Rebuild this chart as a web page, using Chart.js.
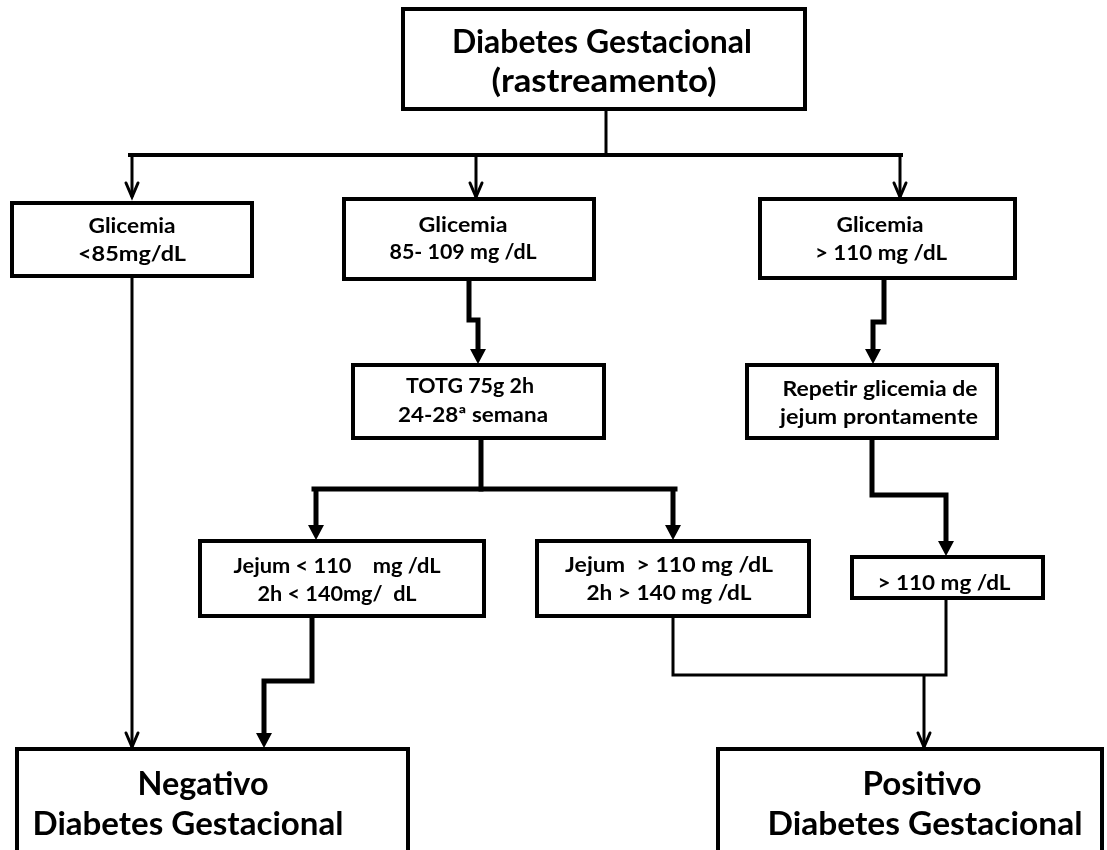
<!DOCTYPE html>
<html>
<head>
<meta charset="utf-8">
<script src="https://cdn.jsdelivr.net/npm/chart.js@4/dist/chart.umd.min.js"></script>
<style>
  html, body { margin: 0; padding: 0; background: #fff; }
  canvas { display: block; }
</style>
</head>
<body>
<canvas id="canvas" width="1107" height="850"></canvas>
<script>
// texto de cada caixa do fluxograma
const topLabel = ["Diabetes Gestacional", "(rastreamento)"];
const glicemiaLabels = [
  ["Glicemia", "<85mg/dL"],
  ["Glicemia", "85- 109 mg /dL"],
  ["Glicemia", "> 110 mg /dL"],
];
const secondLabels = [
  ["TOTG 75g 2h", "24-28ª semana"],
  ["Repetir glicemia de", "jejum prontamente"],
];
const thirdLabels = [
  ["Jejum < 110    mg /dL", "2h < 140mg/  dL"],
  ["Jejum  > 110 mg /dL", "2h > 140 mg /dL"],
  ["> 110 mg /dL"],
];
const resultLabels = [
  ["Negativo", "Diabetes Gestacional"],
  ["Positivo", "Diabetes Gestacional"],
];

// layout (unidades do eixo: 0-1107 x 0-850); tx = centro, tw = largura de cada linha
const boxes = [
  { text: topLabel, x1: 403, x2: 805, y1: 9, y2: 109, size: 32, base: 53, gap: 39, tx: [602, 604], tw: [300, 225] },
  { text: glicemiaLabels[0], x1: 12, x2: 252, y1: 203, y2: 276, size: 21, base: 233, gap: 28, tx: [132, 132], tw: [87, 108] },
  { text: glicemiaLabels[1], x1: 344, x2: 594, y1: 199, y2: 279, size: 21, base: 232, gap: 27, tx: [463, 463], tw: [89, 147] },
  { text: glicemiaLabels[2], x1: 760, x2: 1015, y1: 199, y2: 278, size: 21, base: 232, gap: 28, tx: [880, 881], tw: [87, 132] },
  { text: secondLabels[0], x1: 353, x2: 604, y1: 365, y2: 438, size: 21, base: 393, gap: 29, tx: [470, 473], tw: [128, 150] },
  { text: secondLabels[1], x1: 747, x2: 997, y1: 365, y2: 438, size: 21, base: 396, gap: 28, tx: [880, 879], tw: [195, 198] },
  { text: thirdLabels[0], x1: 200, x2: 484, y1: 541, y2: 616, size: 21, base: 573, gap: 28, tx: [337, 337], tw: [207, 159] },
  { text: thirdLabels[1], x1: 537, x2: 809, y1: 541, y2: 616, size: 21, base: 572, gap: 28, tx: [669, 669], tw: [208, 165] },
  { text: thirdLabels[2], x1: 852, x2: 1043, y1: 557, y2: 598, size: 21, base: 590, gap: 28, tx: [944], tw: [133] },
  { text: resultLabels[0], x1: 17, x2: 408, y1: 749, y2: 900, size: 32, base: 795, gap: 40, tx: [203, 188], tw: [131, 311] },
  { text: resultLabels[1], x1: 718, x2: 1102, y1: 749, y2: 900, size: 32, base: 795, gap: 40, tx: [922, 925], tw: [119, 315] },
];

// conectores: pontos [x, y], espessura, tipo de seta
const links = [
  { pts: [[606, 109], [606, 155]], w: 3, head: null },
  { pts: [[130, 155], [901, 155]], w: 4, head: null },
  { pts: [[132, 155], [132, 197]], w: 3, head: "open" },
  { pts: [[476, 155], [476, 197]], w: 3, head: "open" },
  { pts: [[900, 155], [900, 197]], w: 3, head: "open" },
  { pts: [[132, 276], [132, 747]], w: 3, head: "open" },
  { pts: [[469, 279], [469, 320], [478, 320], [478, 364]], w: 5, head: "fill" },
  { pts: [[884, 278], [884, 322], [873, 322], [873, 364]], w: 5, head: "fill" },
  { pts: [[481, 438], [481, 489]], w: 5, head: null },
  { pts: [[314, 489], [675, 489]], w: 5, head: null },
  { pts: [[316, 489], [316, 540]], w: 5, head: "fill" },
  { pts: [[673, 489], [673, 540]], w: 5, head: "fill" },
  { pts: [[872, 438], [872, 495], [946, 495], [946, 556]], w: 5, head: "fill" },
  { pts: [[312, 616], [312, 681], [264, 681], [264, 748]], w: 5, head: "fill" },
  { pts: [[673, 616], [673, 675], [946, 675], [946, 598]], w: 3, head: null },
  { pts: [[924, 675], [924, 747]], w: 3, head: "open" },
];

const flowPlugin = {
  id: "flow",
  afterDatasetsDraw(chart) {
    const ctx = chart.ctx;
    const sx = chart.scales.x, sy = chart.scales.y;
    const X = v => sx.getPixelForValue(v);
    const Y = v => sy.getPixelForValue(v);
    ctx.save();
    ctx.strokeStyle = "#000";
    ctx.fillStyle = "#000";
    ctx.lineJoin = "miter";

    links.forEach(l => {
      const p = l.pts.map(q => [X(q[0]), Y(q[1])]);
      const n = p.length;
      const tip = p[n - 1];
      const pts = p.slice();
      if (l.head === "fill") pts[n - 1] = [tip[0], tip[1] - 12];
      ctx.lineWidth = l.w;
      ctx.lineCap = l.head ? "butt" : "square";
      ctx.beginPath();
      ctx.moveTo(pts[0][0], pts[0][1]);
      for (let i = 1; i < n; i++) ctx.lineTo(pts[i][0], pts[i][1]);
      ctx.stroke();
      if (l.head === "fill") {
        ctx.beginPath();
        ctx.moveTo(tip[0], tip[1]);
        ctx.lineTo(tip[0] - 8, tip[1] - 15);
        ctx.lineTo(tip[0] + 8, tip[1] - 15);
        ctx.closePath();
        ctx.fill();
      } else if (l.head === "open") {
        ctx.lineWidth = 3;
        ctx.lineCap = "round";
        ctx.beginPath();
        ctx.moveTo(tip[0] - 6, tip[1] - 14);
        ctx.lineTo(tip[0], tip[1]);
        ctx.lineTo(tip[0] + 6, tip[1] - 14);
        ctx.stroke();
      }
    });

    boxes.forEach(b => {
      const x = X(b.x1), y = Y(b.y1), w = X(b.x2) - X(b.x1), h = Y(b.y2) - Y(b.y1);
      ctx.fillStyle = "#fff";
      ctx.fillRect(x, y, w, h);
      ctx.lineWidth = 4;
      ctx.strokeStyle = "#000";
      ctx.strokeRect(x, y, w, h);
      ctx.fillStyle = "#000";
      ctx.font = "bold " + b.size + "px Lato";
      ctx.textAlign = "center";
      ctx.textBaseline = "alphabetic";
      b.text.forEach((t, i) => {
        const m = ctx.measureText(t).width;
        const target = X(b.tx[i] + b.tw[i] / 2) - X(b.tx[i] - b.tw[i] / 2);
        ctx.save();
        ctx.translate(X(b.tx[i]), Y(b.base + i * b.gap));
        ctx.scale(target / m, 1);
        ctx.fillText(t, 0, 0);
        ctx.restore();
      });
    });
    ctx.restore();
  },
};

const config = {
  type: "scatter",
  data: {
    datasets: [{
      data: boxes.map(b => ({ x: (b.x1 + b.x2) / 2, y: (b.y1 + b.y2) / 2 })),
      pointRadius: 0,
    }],
  },
  options: {
    responsive: false,
    animation: false,
    layout: { padding: 0 },
    plugins: { legend: { display: false }, tooltip: { enabled: false } },
    scales: {
      x: { type: "linear", min: 0, max: 1107, display: false },
      y: { type: "linear", min: 0, max: 850, reverse: true, display: false },
    },
  },
  plugins: [flowPlugin],
};

const canvas = document.getElementById("canvas");
const chart = new Chart(canvas, config);
</script>
</body>
</html>
